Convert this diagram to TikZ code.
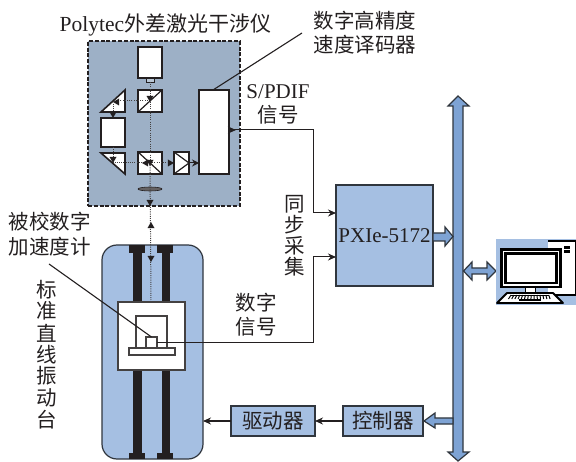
\documentclass[tikz,border=0pt]{standalone}
\usepackage{fontspec}
\setmainfont{Liberation Serif}
\newfontfamily\cjk{Noto Sans CJK SC}[Scale=1]
\usetikzlibrary{arrows.meta}
\definecolor{ifbg}{HTML}{9DB0C6}
\definecolor{stagebg}{HTML}{A5BFE2}
\definecolor{busblue}{HTML}{7EA3D4}
\definecolor{ink}{HTML}{231F20}
\definecolor{edge}{HTML}{30363E}
\tikzset{
  box/.style={draw=ink,line width=1.6pt,fill=white,inner sep=0pt,outer sep=0pt},
  thin box/.style={draw=ink!85,line width=1.2pt,fill=white,inner sep=0pt,outer sep=0pt},
  blue box/.style={draw=edge,line width=1.2pt,fill=stagebg,inner sep=0pt,outer sep=0pt},
  txt/.style={inner sep=0pt,text=ink},
  wire/.style={draw=ink,line width=1pt,-{Stealth[length=8pt,width=7pt]}},
  plain wire/.style={draw=ink,line width=1.1pt},
  beam/.style={draw=ink!85,line width=1pt,dash pattern=on 1pt off 1.2pt},
  tip/.style={fill=ink,draw=none},
  blockarrow/.style={draw=edge,line width=1.2pt,fill=busblue,line join=miter},
  rail/.style={fill=ink,draw=none},
  cj/.style={txt,font=\cjk\fontsize{20.5}{21}\selectfont}
}
\newcommand{\hd}[3]{\fill[tip] (#1,#2) ++(#3:4) -- ++(#3+150:7) -- ++(#3-90:7) -- cycle;}
\begin{document}
\begin{tikzpicture}[x=1pt,y=-1pt]
\useasboundingbox (0,0) rectangle (576,462);
% Interferometer
\node[draw=ink,dash pattern=on 4pt off 1.8pt,line width=1.2pt,fill=ifbg,minimum width=152pt,minimum height=165pt,inner sep=0pt,outer sep=0pt] (ifbox) at (164,123.5) {};
% stage
\node[draw=edge,line width=1.2pt,fill=stagebg,rounded corners=15pt,minimum width=101pt,minimum height=214pt,inner sep=0pt,outer sep=0pt] (stage) at (152.5,352) {};
\fill[rail] (133,250) rectangle (142,453);
\fill[rail] (162,250) rectangle (170,453);
\fill[rail] (129,245) rectangle (145,253);
\fill[rail] (157,245) rectangle (173,253);
\fill[rail] (129,453) rectangle (145,459);
\fill[rail] (157,453) rectangle (173,459);
\node[thin box,minimum width=67pt,minimum height=68pt] (carriage) at (151.5,336) {};
\node[thin box,minimum width=31pt,minimum height=32pt] (holder) at (151.5,332) {};
\node[thin box,minimum width=46pt,minimum height=7pt] (base) at (152,351.5) {};
\node[thin box,minimum width=11pt,minimum height=11pt] (sensor) at (151.5,342.5) {};
% optics
\node[box,minimum width=24pt,minimum height=31pt] (laser) at (150,62.5) {};
\node[draw=ink,line width=.8pt,fill=ifbg!70,minimum width=8pt,minimum height=4pt,inner sep=0pt,outer sep=0pt] (nozzle) at (150,80) {};
\node[box,minimum width=24pt,minimum height=22pt] (bsa) at (150,101) {};
\draw[ink,line width=1.2pt] (bsa.south west) -- (bsa.north east);
\node[box,minimum width=24pt,minimum height=22pt] (bsb) at (150,163) {};
\draw[ink,line width=1.2pt] (bsb.north west) -- (bsb.south east);
\node[box,minimum width=24pt,minimum height=29pt] (mid) at (113,132.5) {};
\node[box,minimum width=15pt,minimum height=22pt] (det) at (181.5,163) {};
\draw[ink,line width=1.2pt] (det.north west) -- (det.east) -- (det.south west);
\node[box,minimum width=30pt,minimum height=84pt] (dec) at (214,132) {};
\draw[box,line join=miter] (101,112) -- (125,90) -- (125,112) -- cycle;
\draw[box,line join=miter] (101,153) -- (125,153) -- (125,174) -- cycle;
\fill[ink!70] (150,189) ellipse (12pt and 2pt);
\draw[ink,line width=.6pt] (150,189) ellipse (12pt and 2pt);
\draw[beam] (nozzle.south) -- (bsa.center) -- (bsb.center);
\draw[beam] (bsb.center) -- (151,300);
\draw[beam] (bsa.center) -- (113,101) -- (113,112);
\draw[beam] (113,147) -- (113,163) -- (bsb.center);
\draw[beam] (bsb.center) -- (det.west);
% arrowheads
\hd{150}{98}{90}
\hd{117}{102}{180}
\hd{113}{114}{90}
\hd{113}{159}{90}
\hd{146}{163}{180}
\hd{150}{162}{90}
\hd{170}{163}{0}
\hd{150}{202}{90}
\hd{151}{226}{-90}
\hd{151}{258}{90}
\draw[ink,line width=1pt,-{Stealth[length=7pt,width=7pt]}] (det.east) -- (dec.west |- det.east);
% leaders
\coordinate (lbA) at (302,33);
\coordinate (lbB) at (49,264);
\draw[plain wire] (213,90) -- (lbA);
\draw[plain wire] (lbB) -- (sensor.north);
% PXI
\node[blue box,line width=1.4pt,minimum width=97pt,minimum height=101pt] (pxi) at (384.5,235.5) {};
\node[txt,font=\fontsize{21}{22}\selectfont] (pxit) at (384.5,236) {PXIe-5172};
\coordinate (a1) at (313,130);
\coordinate (a2) at (313,257);
\draw[wire] (dec.east |- a1) -- (236,130);
\draw[wire] (dec.east |- a1) -- (a1) -- (313,213) -- (pxi.west |- 0,213);
\draw[wire] (sensor.east |- 0,343) -- (313,343) -- (a2) -- (pxi.west |- a2);
% bus
\draw[blockarrow] (458,96) -- (469,106) -- (463,106) -- (463,452) -- (469,452) -- (458,461) -- (448,452) -- (453,452) -- (453,106) -- (448,106) -- cycle;
\draw[blockarrow] (433,233) -- (445,233) -- (445,227) -- (453,236.5) -- (445,246) -- (445,241) -- (433,241) -- cycle;
\draw[blockarrow] (463.5,271) -- (472,262) -- (472,268) -- (487,268) -- (487,262) -- (496,271) -- (487,280) -- (487,274) -- (472,274) -- (472,280) -- cycle;
% computer
\fill[stagebg] (496,239) rectangle (576,305);
\draw[black,line width=1.5pt,fill=white] (548,241) -- (575.5,241) -- (575.5,295) -- (548,295);
\fill[black] (564,246) rectangle (570,249);
\fill[black] (564,250) rectangle (570,253);
\node[draw=black,line width=1.8pt,fill=white,minimum width=10pt,inner sep=0pt,minimum height=8pt] (neck) at (530.5,291) {};
\draw[black,line width=2.2pt,fill=white] (501.5,249.5) rectangle (560.5,287);
\draw[black,line width=2.2pt,fill=white] (505.5,253.5) rectangle (556.5,283);
\draw[black,line width=1.8pt,fill=white,line join=round] (507,293) -- (553,293) -- (563,303) -- (497,303) -- cycle;
\foreach \i in {0,...,13} {\draw[black,line width=1pt] (511+2.9*\i,295) -- (508.5+3.2*\i,299);}
\draw[black,line width=1pt] (511,295.5) -- (549,295.5);
\draw[black,line width=2pt] (519,300.5) -- (541,300.5);
% bottom
\node[blue box,minimum width=84pt,minimum height=30pt] (drv) at (273,421) {};
\node[blue box,minimum width=80pt,minimum height=30pt] (ctl) at (383,421) {};
\node[cj] at (drv) {驱动器};
\node[cj] at (ctl) {控制器};
\draw[wire] (ctl) -- (drv);
\draw[wire] (drv) -- (stage.east |- drv);
\draw[blockarrow] (453,418) -- (435,418) -- (435,413) -- (424,421) -- (435,428) -- (435,424) -- (453,424) -- cycle;
% labels
\node[txt,font=\fontsize{21.5}{22}\selectfont,anchor=west] (t1) at (59.5,25) {Polytec{\cjk\fontsize{21}{22}\selectfont 外差激光干涉仪}};
\node[cj] at (365,21) {数字高精度};
\node[cj] at (365,45) {速度译码器};
\node[txt,font=\fontsize{21}{22}\selectfont] at (278,92) {S/PDIF};
\node[cj] at (278,115) {信号};
\node[cj] at (50,222) {被校数字};
\node[cj] at (50,247) {加速度计};
\node[cj] at (256,303) {数字};
\node[cj] at (256,327) {信号};
\foreach \c/\y in {同/204,步/225,采/246,集/267} {\node[cj] at (295,\y) {\c};}
\foreach \c/\y in {标/290,准/311,直/333,线/355,振/376,动/398,台/420} {\node[cj] at (47,\y) {\c};}
\end{tikzpicture}
\end{document}
